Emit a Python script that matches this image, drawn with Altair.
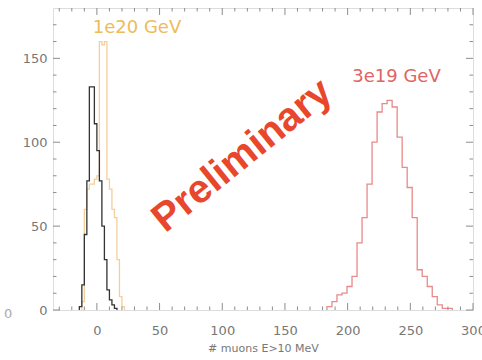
import altair as alt
import pandas as pd

# ---- histogram data (bin edges and counts) ----
black_edges = [-14, -12, -10, -8, -6, -4, -2, 0, 2, 4, 6, 8, 10, 12, 14, 16]
black_counts = [2, 15, 45, 77, 133, 133, 111, 95, 77, 50, 30, 12, 6, 3, 1]

orange_edges = [-12, -10, -8, -6, -4, -2, 0, 2, 4, 6, 8, 10, 12, 14, 16, 18, 20, 22]
orange_counts = [5, 60, 72, 75, 75, 78, 80, 160, 158, 160, 78, 72, 60, 55, 30, 8, 2]

red_edges = [183.5 + 4 * i for i in range(26)]
red_counts = [2, 5, 9, 10, 14, 20, 40, 55, 75, 100, 118, 123, 125, 121, 103,
              85, 73, 55, 24, 20, 14, 8, 3, 1, 1]

series_names = ["1e20 GeV", "black", "3e19 GeV"]
series_colors = ["#f3cf9c", "#333333", "#e88a8a"]

x_major = [0, 50, 100, 150, 200, 250, 300]
x_minor = [v for v in range(-30, 301, 10) if v % 50 != 0]
y_major = [0, 50, 100, 150]
y_minor = [v for v in range(10, 180, 10) if v % 50 != 0]

labels_text = ["1e20 GeV", "3e19 GeV"]
labels_x = [32, 239]
labels_y = [168, 139]
labels_color = ["#ecbc5c", "#e06464"]


def step_rows(name, edges, counts):
    rows = [{"series": name, "x": edges[0], "y": 0, "i": 0}]
    for k, c in enumerate(counts):
        rows.append({"series": name, "x": edges[k], "y": c, "i": k + 1})
    rows.append({"series": name, "x": edges[-1], "y": 0, "i": len(counts) + 1})
    return rows


rows = []
rows += step_rows("1e20 GeV", orange_edges, orange_counts)
rows += step_rows("black", black_edges, black_counts)
rows += step_rows("3e19 GeV", red_edges, red_counts)
hist_df = pd.DataFrame(rows)

W, H = 420, 302
xscale = alt.Scale(domain=[-35, 300], nice=False, zero=False)
yscale = alt.Scale(domain=[0, 180], nice=False)
axis_col = "#8c8c8c"
font = "DejaVu Sans"

xaxis = alt.Axis(values=x_major, ticks=False, domain=False, grid=False,
                 labelFontSize=13, labelColor="#777777", labelFont=font,
                 labelPadding=14, title="# muons E>10 MeV", titleFontSize=11,
                 titleColor="#777777", titleFont=font, titleFontWeight="normal",
                 titlePadding=5, labelFlush=False, labelOverlap=False)
yaxis = alt.Axis(values=y_major, ticks=False, domain=False, grid=False,
                 labelFontSize=13, labelColor="#777777", labelFont=font,
                 labelPadding=6, title=None, labelFlush=False)

base = alt.Chart(hist_df)
hist = base.mark_line(interpolate="step-after", strokeWidth=1.3).encode(
    x=alt.X("x:Q", scale=xscale, axis=xaxis),
    y=alt.Y("y:Q", scale=yscale, axis=yaxis),
    color=alt.Color("series:N", scale=alt.Scale(domain=series_names, range=series_colors), legend=None),
    order="i:Q",
)

xmaj_df = pd.DataFrame({"v": x_major})
xmin_df = pd.DataFrame({"v": x_minor})
ymaj_df = pd.DataFrame({"v": y_major})
ymin_df = pd.DataFrame({"v": y_minor})


def xticks(df, length):
    b = alt.Chart(df).mark_rule(color=axis_col, strokeWidth=1)
    bottom = b.encode(x=alt.X("v:Q", scale=xscale), y=alt.value(H), y2=alt.value(H - length))
    top = b.encode(x=alt.X("v:Q", scale=xscale), y=alt.value(0), y2=alt.value(length))
    return bottom + top


def yticks(df, length):
    b = alt.Chart(df).mark_rule(color=axis_col, strokeWidth=1)
    left = b.encode(y=alt.Y("v:Q", scale=yscale), x=alt.value(0), x2=alt.value(length))
    right = b.encode(y=alt.Y("v:Q", scale=yscale), x=alt.value(W), x2=alt.value(W - length))
    return left + right


ticks = xticks(xmaj_df, 7) + xticks(xmin_df, 3.5) + yticks(ymaj_df, 7) + yticks(ymin_df, 3.5)

lab_df = pd.DataFrame({"t": labels_text, "x": labels_x, "y": labels_y, "c": labels_color})
labels = alt.Chart(lab_df).mark_text(fontSize=18, font=font, align="center", baseline="middle").encode(
    x=alt.X("x:Q", scale=xscale), y=alt.Y("y:Q", scale=yscale),
    text="t:N", color=alt.Color("c:N", scale=None),
)

prelim_df = pd.DataFrame({"t": ["Preliminary"], "x": [116], "y": [92]})
prelim = alt.Chart(prelim_df).mark_text(
    fontSize=40, font="Liberation Sans", fontWeight="bold", color="#e8472b",
    angle=321, align="center", baseline="middle",
).encode(x=alt.X("x:Q", scale=xscale), y=alt.Y("y:Q", scale=yscale), text="t:N")

stray_df = pd.DataFrame({"t": ["0"]})
stray = alt.Chart(stray_df).mark_text(fontSize=13, font=font, color="#aaaaaa", align="left",
                                       baseline="middle").encode(
    x=alt.value(-49), y=alt.value(H + 4), text="t:N")

chart = alt.layer(hist, ticks, labels, prelim, stray).properties(
    width=W, height=H,
    padding={"left": 53, "top": 8, "right": 9, "bottom": 50},
    autosize="none",
).configure_view(stroke=axis_col, strokeWidth=1).configure(background="white")

chart.save("out.html", embed_options={"renderer": "svg", "actions": False})
